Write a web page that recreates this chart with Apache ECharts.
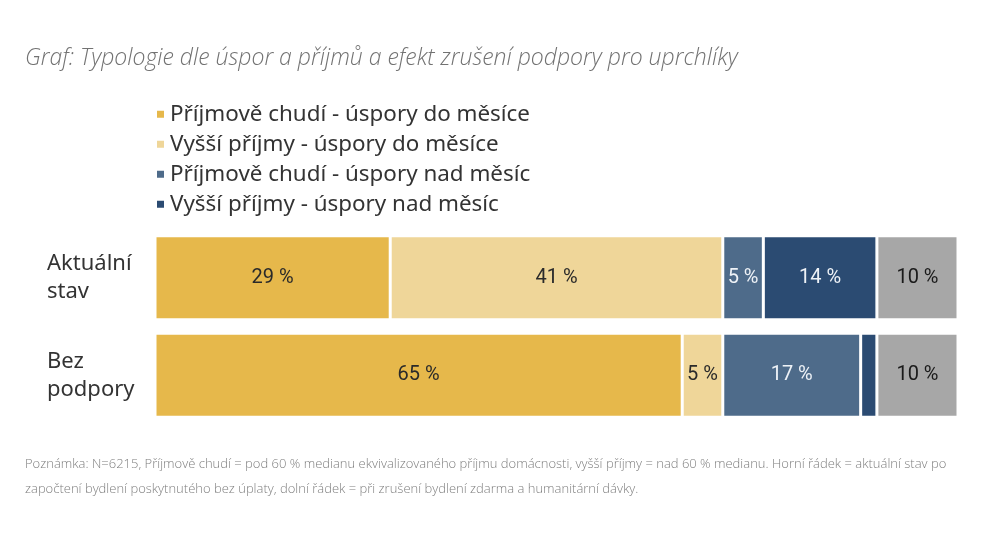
<!DOCTYPE html>
<html><head><meta charset="utf-8">
<script src="https://cdn.jsdelivr.net/npm/echarts@6/dist/echarts.min.js"></script>
<style>html,body{margin:0;padding:0;background:#fff}#c{width:991px;height:558px}</style>
</head><body><div id="c"></div>
<script>
const categories = ['Aktuální\nstav', 'Bez\npodpory'];
const seriesNames = ['Příjmově chudí - úspory do měsíce','Vyšší příjmy - úspory do měsíce','Příjmově chudí - úspory nad měsíc','Vyšší příjmy - úspory nad měsíc','Ostatní'];
const poorShort = [29, 65];
const richShort = [41, 5];
const poorLong = [5, 17];
const richLong = [14, 2];
const other = [10, 10];
const colors = ['#e6b84b','#efd699','#4e6b8a','#2b4b72','#a7a7a7'];
const labelColors = ['#2a2a2a','#2a2a2a','#eef2f7','#eef2f7','#1a1a1a'];
const values = [poorShort, richShort, poorLong, richLong, other];
const totals = categories.map((c,i)=>values.reduce((s,v)=>s+v[i],0));
const chart = echarts.init(document.getElementById('c'));
chart.setOption({
  backgroundColor:'#fff',
  animation:false,
  title:{text:'Graf: Typologie dle úspor a příjmů a efekt zrušení podpory pro uprchlíky',left:20,top:42,
    textStyle:{fontFamily:'Open Sans',fontStyle:'italic',fontWeight:300,fontSize:23,color:'#727272'}},
  legend:{orient:'vertical',left:150,top:98,itemWidth:9,itemHeight:9,itemGap:7.6,icon:'rect',
    data:seriesNames.slice(0,4),
    textStyle:{fontFamily:'Noto Sans',fontSize:22.4,lineHeight:22.4,color:'#333',padding:[0,0,0,0]}},
  grid:{left:155,right:33,top:229,height:195},
  xAxis:{type:'value',min:0,max:Math.max(...totals),show:false},
  yAxis:{type:'category',data:categories,inverse:true,axisLine:{show:false},axisTick:{show:false},
    axisLabel:{align:'left',margin:108,fontFamily:'Noto Sans',fontSize:22,lineHeight:28,color:'#333'}},
  series:values.map((v,i)=>({
    name:seriesNames[i],type:'bar',stack:'a',data:v,barCategoryGap:'14%',
    itemStyle:{color:colors[i],borderColor:'#fff',borderWidth:1.5},
    label:{show:true,position:'inside',fontFamily:'Roboto',fontSize:20,color:labelColors[i],
      formatter:p=>p.value>=4?p.value+' %':''}
  })),
  graphic:[
    {type:'text',left:25,top:458,style:{text:'Poznámka: N=6215, Příjmově chudí = pod 60 % medianu ekvivalizovaného příjmu domácnosti, vyšší příjmy = nad 60 % medianu. Horní řádek = aktuální stav po',font:'300 13px "Open Sans"',fill:'#7f7f7f'}},
    {type:'text',left:25,top:483,style:{text:'započtení bydlení poskytnutého bez úplaty, dolní řádek = při zrušení bydlení zdarma a humanitární dávky.',font:'300 13px "Open Sans"',fill:'#7f7f7f'}}
  ]
});
</script></body></html>
